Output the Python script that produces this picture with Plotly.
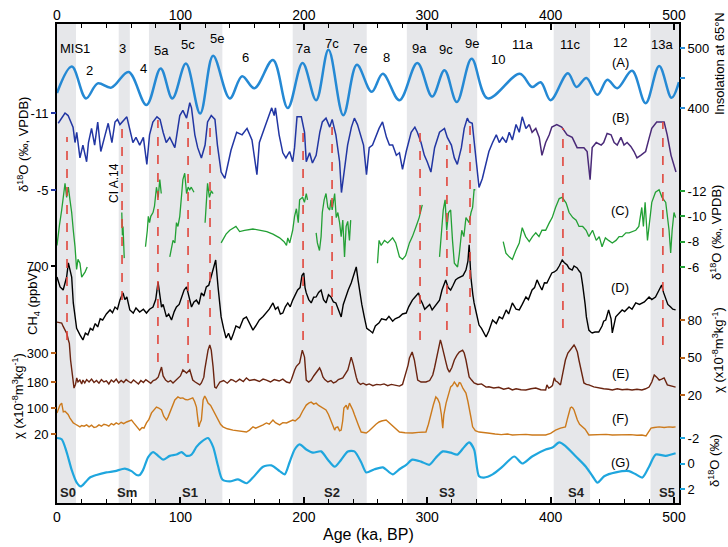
import plotly.graph_objects as go

# ---------------- data ----------------
# (A) insolation at 65N (W/m2)
ins_age = [0,12,23.5,33,44,58,72.5,84,93.5,104.5,116,126.5,140,150,160,175,187,199,210,220,232,243,255,264,277.5,292,304,314,324,336,349,375,385,392,400,414,421,429,438,446,454,466,477,488,498,504]
ins_val = [425,469,416,441,434,460,405,466,416,474,391,487,416,453,433,480,400,475,413,497,388,472,427,457,413,475,419,463,410,482,416,457,435,443,413,458,435,450,422,447,433,462,408,470,417,443]

# (B) speleothem d18O (permil VPDB), blue part and purple part
b_age = [1,6.5,9,13,14.6,16,18.6,21,24,25.5,28,30.5,33,35.5,39,41.5,44.5,47,49,51,56.6,59,61.5,64,67,70,72.8,75,77.7,81,83.5,86,88.5,91.4,95.5,99.5,102,105,107.6,109,111.7,114,117,120,122,125,128,130,133,136,138,141,145.6,150,154,158,162,164,168,171,174,176,177,180,183,185.5,188.5,191,192.5,194.5,198,200.6,202,204.7,207,210,213,215,218,221,223,226,229,230.5,233,235.5,238.6,241,243.5,246.8,248.4,250.8,253,255.7,258.9,261,263.8,267,269.4,272,275,277.5,280,283,287,290,292,295,297.7,300,303,306,310,314,316.3,319.6,322,324.4,327.7,330,332.5,334,336.5,339.8,342,344.7,347.9,350,353,356,358.4,361,364,366.5,369,372,374.6,377,380,382.7]
b_val = [-10.2,-11.0,-10.8,-9.9,-8.7,-9.5,-7.5,-8.5,-7.2,-8.7,-9.8,-8.5,-10.3,-8.0,-9.3,-10.2,-8.7,-10.3,-10.5,-10.1,-10.7,-9.8,-8.7,-9.1,-8.5,-9.1,-7.0,-9.3,-10.3,-10.7,-10.5,-9.5,-8.7,-9.1,-8.3,-10.8,-11.2,-10.6,-11.8,-11.4,-9.3,-8.3,-7.5,-8.5,-10.3,-10.8,-10.5,-8.5,-6.4,-5.9,-6.7,-8.1,-9.5,-9.3,-9.8,-8.9,-6.2,-8.7,-9.8,-10.6,-11.4,-10.8,-11.4,-9.3,-7.9,-7.5,-8.0,-7.2,-8.3,-10.7,-10.7,-9.5,-7.2,-7.9,-7.1,-7.7,-9.5,-10.3,-10.6,-9.9,-10.5,-9.3,-7.2,-4.8,-6.7,-8.5,-9.9,-10.6,-10.1,-9.1,-8.5,-6.2,-8.3,-8.5,-9.3,-9.8,-10.3,-9.1,-8.5,-8.5,-7.7,-7.9,-6.6,-8.0,-9.5,-9.9,-9.5,-8.7,-7.7,-7.2,-6.4,-8.3,-9.5,-9.8,-9.1,-8.5,-7.5,-7.0,-8.3,-9.8,-10.6,-10.3,-10.2,-7.2,-5.2,-5.9,-7.2,-8.0,-8.7,-9.3,-8.7,-9.1,-8.7,-9.5,-8.9,-10.1,-9.5,-10.7,-9.8,-10.1]
bp_age = [382.7,385,388,390.8,393,396,398.9,401,405,409,413.4,417.5,421.5,424.8,427,429.6,432,433.7,437,441,443,445.8,449,451.5,454,457,459.5,462,465,467.6,470,473,477,480,482,486,492,494.5,497.6,501.6]
bp_val = [-10.1,-9.5,-9.8,-9.1,-7.7,-8.7,-9.3,-9.9,-10.1,-9.9,-9.3,-9.1,-8.3,-8.3,-8.3,-8.0,-5.8,-8.3,-8.7,-8.5,-8.7,-9.4,-9.3,-8.7,-8.5,-9.1,-8.5,-8.7,-8.4,-8.0,-7.5,-7.7,-8.0,-9.1,-9.8,-10.3,-10.3,-9.3,-7.7,-6.4]

# (C) second d18O record (permil VPDB), None = gap
c_age = [0,1,2,3.8,5,6.5,7.8,9.2,10.5,11.9,13.2,14.6,15.9,17,18.6,20,22.7,24.5, None,
         52.5,53,53.5,54,54.5, None,
         71.7,72.5,73.2,74,75,76,77.8,79,80.6,82,83.3,84.5, None,
         91.4,92.5,94,95.5,96.8,98,99.5,100.8,102,103.5,105,106.3,107.6,108.8,110,111, None,
         120,121,122,123.5,125,126.5, None,
         133,137,140,145,148,152,158.8,165,170,175,180.4,184,186,187,188.6,191,192.5,194,195.5,196.6,199,200.5,202,203, None,
         210,211,212.7,214,215,216.5,218,219.5,221,222,223,225,226.3,227.6,229,230.3,231.6,233,234.3,235.6,237,238, None,
         259.7,261,262.7,265.4,268,272,274.5,277.5,280,282.5,285.6,288,291,293.5,296, None,
         310,311.5,313,314.5,315.8,317.3,319,320.5,322,324.6,326,328,329.7,331.4,334,335.5,336.8,338,339, None,
         361.6,363.8,366.5,369,371.8,374.6,377,379.8,382.7,385.3,388,390.6,393,396,399,401.3,404,407,409.4,412.6,415,418,420.7,423,426,428.8,431,434,437,439.4,441.7,444.4,447,450,453,455.5,458,461,463.6,466.3,469,471.5,473.9,475.2,476.6,478.5,480.3,482,485,487.9,490.3,493.3,496,497.3,498.5,500,501.3]
c_val = [-7.7,-8.6,-9.3,-10.5,-11.4,-12.6,-11.5,-12.3,-11.3,-10.3,-8.9,-7.6,-5.8,-6.6,-6.3,-5.2,-5.6,-6.0, None,
         -10.3,-8.5,-9.2,-7.5,-6.7, None,
         -7.6,-8.2,-8.9,-10.0,-9.5,-10.0,-10.3,-10.8,-12.3,-11.5,-12.9,-11.8, None,
         -6.8,-7.3,-8.1,-7.9,-9.5,-9.2,-10.0,-11.5,-12.9,-13.4,-11.8,-12.3,-12.1,-12.3,-12.1,-11.9, None,
         -9.5,-11.2,-12.6,-11.5,-12.0,-11.8, None,
         -7.9,-8.6,-8.9,-9.2,-8.8,-8.9,-9.0,-8.9,-8.8,-8.6,-8.3,-8.0,-7.7,-8.3,-7.9,-8.9,-10.0,-10.6,-9.5,-11.3,-11.5,-11.1,-11.8,-11.3, None,
         -8.7,-7.9,-7.3,-8.4,-10.3,-11.3,-11.8,-10.7,-10.5,-11.3,-10.5,-11.8,-9.9,-10.3,-9.5,-8.4,-9.7,-6.8,-9.2,-9.6,-8.1,-9.7, None,
         -6.3,-8.1,-7.7,-8.1,-7.9,-8.3,-7.9,-6.8,-6.6,-6.9,-7.9,-8.4,-9.2,-9.9,-10.9, None,
         -6.8,-8.9,-10.5,-11.3,-8.9,-10.3,-10.5,-8.1,-6.3,-6.0,-7.0,-8.9,-8.4,-9.9,-9.5,-10.3,-10.7,-12.1,-12.1, None,
         -8.0,-7.1,-6.8,-6.6,-7.3,-7.9,-9.1,-8.4,-8.0,-8.4,-8.7,-8.4,-8.9,-8.9,-9.5,-9.9,-10.7,-11.4,-11.5,-11.05,-10.3,-9.9,-9.7,-9.2,-9.2,-8.9,-8.4,-8.9,-8.1,-8.4,-7.6,-8.3,-8.1,-7.9,-8.1,-8.4,-8.4,-8.7,-8.7,-8.8,-8.9,-9.2,-10.7,-9.2,-11.1,-8.1,-9.9,-11.1,-11.9,-12.1,-11.5,-11.1,-8.9,-7.1,-8.9,-10.3,-9.9]

# (D) CH4 (ppbV)
d_age = [0,2.5,5,7.8,9.2,10.5,11.9,13.2,14.6,15.9,18.6,21,23,25,27,29,31,33,35,37,40,43,45,47,49,51,53.5,55,56.6,59,61.8,64,67,70,72.5,75,77.8,80,81.9,83,84.7,86,88.7,90.5,92.8,95,96.8,99,100.9,103,105,107,109,111,113,115,117,119,121,123,125,127,128.6,130.5,132,133,135,137,139,141,142.6,145,148,151,153.5,156,158.8,161,164,167,169.7,172,175,177,179,181,183,185,187,189,191,193,195,197,198.5,200,201,202,204,206,208,210,212,214,216,218,220,222,224,226,228,230.3,232,234,236,238.4,240.5,242.5,244,245,247,249,251,253,255.8,258,261,263,266.7,269,272,274,277.5,280,283,285,288,290,293,294.5,296,298,300,302,304,306,308,310,312,315,317,319,321,323,325,327,329,331.4,333,334,335.4,337,338,340,342,344,345.7,347.7,350,353,356,358.4,361,364,366,369,372,374.6,377,380,382,385,387,389,391,393,395,397,399,401,403,405,407,409.4,411,413.4,415,417.5,419,421.5,423,424.5,426,427,428,429,431,432.5,433.7,436,439,441.7,443,444.7,447,449,450,452.8,455,458,460,463.6,466,469,472,474,476,479.8,482,485,487,490,491.5,493,495,497.3,499,501.3]
d_val = [654,613,600,654,713,683,654,546,488,440,413,392,420,413,440,433,460,446,480,475,500,517,505,529,520,558,588,560,571,517,504,525,508,520,504,520,529,560,633,590,529,540,488,500,475,510,529,540,571,600,613,570,529,550,558,540,588,575,613,620,654,690,725,613,520,488,440,400,420,392,413,450,442,480,488,460,433,450,475,490,504,520,546,520,529,500,504,530,546,530,558,580,600,610,660,671,610,588,560,546,570,571,590,600,560,546,580,571,550,546,520,488,540,571,600,629,660,696,640,600,540,488,440,433,421,450,463,480,475,490,470,480,488,500,504,530,558,570,588,560,546,520,529,540,517,530,545,558,600,642,610,600,620,642,650,654,660,683,720,788,654,580,546,500,454,440,420,404,430,475,460,488,480,517,500,546,520,517,540,571,560,600,610,642,620,600,630,629,650,671,675,683,700,725,715,704,690,683,700,692,680,671,620,588,540,488,433,425,421,425,425,450,470,475,517,480,421,488,500,517,510,529,520,546,540,546,550,571,560,571,590,621,590,571,540,529,520,517]

# (E) magnetic susceptibility, loess section 1 (x10-8 m3/kg)
e_age = [0,2,3.8,5,6.5,8,9.2,10,11,12,12.7,13.8,15,16,17,18.5,20,21,22.5,24,26,28,30,32,34,36,38,40,42,44,46,48,50,52,54,56,58,60,62,64,66,68,70,72,74,76,78,80,82,84.7,86,88,90,92,94,96,98,100,102,104,105,107.6,110,112,114,115.7,117,119,119.7,121,122.4,123.8,125,126.5,127.8,129,130.5,132,135,138,141,142.6,145,148,151,153.5,156,160,164,167,169.7,173,176,180,183,186,188.6,190,192.6,194,196.6,198.8,200.6,202,204,206,208,210,212.8,214,215.5,217,219.5,222,224,226,228,231.6,233,235.7,237,238.4,240,241,242.5,243.8,246,248,250.6,253,256,259,262,265,268,271,274,277.5,280,283,284.5,285.6,287.8,289.6,291,292.3,295,299,302,304.5,306,308.5,309.5,310.7,311.5,312.6,314,315.3,316.5,318,320,322,324,326,328.7,330,331.4,333,334,336,338,341,344,347.7,350,354,358,362,366,369,372,376,380,384,388,392,396,397,398.5,400,401.5,403,404,405.6,407,408,410,412,414,416,417.5,419,420,421.7,423,424.5,426,427,429,431,435,439,443,447,450,454,458,462,466,470,474,477,479.8,482,484,486,488,490,492,494.6,497,501.3]
e_val = [428,426,424,410,395,380,354,340,271,220,188,155,170,197,180,188,172,188,176,190,180,192,178,186,175,190,180,185,172,188,180,192,176,186,178,190,182,176,188,180,172,186,178,190,182,175,186,190,200,242,205,188,180,186,176,185,192,205,230,220,217,230,188,180,172,168,176,200,230,280,312,333,312,242,159,155,165,180,186,175,190,188,180,192,182,197,186,190,182,192,188,180,190,184,192,180,176,190,230,245,259,312,283,188,180,188,205,221,238,225,201,190,180,186,176,180,190,197,210,230,255,283,255,230,200,180,170,175,168,172,165,170,168,172,165,170,166,163,170,217,250,279,304,271,230,188,180,180,186,209,240,300,330,354,340,312,285,259,235,221,240,271,290,304,312,300,271,230,201,188,176,170,172,159,160,155,158,150,155,147,152,148,147,152,155,148,147,168,155,159,165,197,185,180,172,168,220,271,300,312,320,333,325,304,270,230,190,176,170,168,160,155,152,150,147,152,148,150,147,150,147,152,159,180,209,200,188,192,197,168,165,159]

# (F) magnetic susceptibility, loess section 2 (x10-8 m3/kg)
f_age = [0,1.2,2.4,3.8,5.1,6.5,7.8,9,10.5,12,13.2,15,16.8,18.6,20,22,24,26,28,30,32,34,36,38,40,42,44,46,48,50,52,54,56.4,58,60.4,62,64.5,67,69,70.5,72.5,74.5,76.6,78.5,80.6,82.5,84.7,86.5,88.7,90,91.4,93.5,95.5,98,100,102,104,106,108,110,111.5,113,114,115,116,117,118.4,119.7,121,122.4,124.5,126.5,128.5,130.5,132.5,134.5,138,142.6,146,150,153.5,156,158.8,161,164,167,169.7,172,175,177,180.4,183,186,188,191,193,196.6,199,200.5,202,204,206,208,210,212,214,216,218,220,222,223.5,225,226,227.5,229,230.3,231.5,232.5,234.4,235.5,237,238.5,239.7,241,242.5,244.5,246.5,250.6,253,256,258.5,261,263,266.7,269,272,275,277.5,282,288,293,299,301,303,305,307,308.5,310,311.5,312.6,313.5,315.3,317,319,320.5,322,323.5,324.5,326,327,329,331.4,333,334,335.5,336.8,339,342,345,349,355,360,365,369,375,380,385,390,396,400,404,408,412,413.5,415,416,417,418,419,420.5,421.7,423.5,425.8,428,431,435,440,445,450,455,460,465,470,474,477.3,479.5,481.4,484,488,492,496,499,501.3]
f_val = [85,95,109,115,88,90,85,80,69,62,54,50,45,42,46,44,48,42,47,40,42,48,44,50,48,44,52,48,54,50,56,52,57,60,63,55,42,32,40,38,54,65,85,95,103,100,94,75,63,72,85,110,125,134,130,131,126,125,128,131,120,103,70,42,55,63,125,137,128,115,108,94,80,63,50,42,36,32,30,28,26,32,42,38,42,48,54,50,63,55,48,55,54,58,63,60,72,90,100,109,115,118,112,115,108,103,100,94,80,63,45,32,40,42,30,32,60,100,109,95,115,105,94,80,63,45,26,23,30,42,50,57,60,63,55,42,32,26,24,23,25,26,50,85,110,134,128,115,80,38,80,115,140,165,170,180,172,165,178,177,160,146,120,103,70,42,30,26,24,23,20,18,20,17,18,19,17,18,17,22,32,38,42,65,85,100,103,100,94,75,63,50,42,35,17,18,17,19,17,18,17,18,16,17,14,25,38,40,42,40,42,41,42]

# (G) benthic d18O stack (permil)
g_age = [0,3.8,7.8,11.9,16,19.2,22.7,26.7,32,40,47,55,60.4,64.5,67,69.8,73.9,77.9,82,86,91.4,96.8,100.9,105,109,113,117,122.4,126.5,130.5,134,140,146.7,153.5,158.8,167,173.7,180.4,184.5,188.5,192.6,196.6,202,207.4,214,219.5,225,230.3,235.7,241,246.5,250.6,257.3,264,272,277.5,283,288,295,301.8,307,312.6,319,324.5,330,334,338,342,346,353,361,370.6,377,385,396,401.5,407,412.3,420.5,428.6,434,438,443.4,452.8,463.6,469,474.4,479.8,485.2,493.3,501.3]
g_val = [-2.0,-1.9,-0.9,0.5,1.5,1.8,1.5,1.1,0.9,0.7,0.6,0.4,0.6,0.9,0.9,0.5,-0.5,-0.9,-0.6,-0.3,-0.6,-0.7,-0.9,-0.6,-0.7,-1.3,-1.7,-2.0,-1.3,0.2,1.25,1.4,1.25,1.55,1.1,0.25,0.15,0.6,0.85,-0.1,-1.1,-1.5,-1.1,-0.85,-0.95,-0.3,0.25,-0.3,-0.95,-0.95,-0.1,0.7,0.45,0.3,0.85,0.45,0.1,-0.3,-0.15,0.1,-0.45,-0.95,-0.85,-0.7,-1.3,-1.65,-1.1,1.0,1.1,0.85,0.25,-0.55,0.0,-0.55,-1.1,-1.25,-1.65,-1.35,-0.55,0.25,1.0,1.5,1.0,0.7,0.6,0.85,1.1,0.25,-0.7,-0.6,-0.8]

# interglacial bands (ka)
band_start = [0, 50, 74.5, 191, 283.5, 402.5, 481]
band_end = [15.4, 59, 134, 251, 340.5, 432, 504]

# red dashed tie lines (ka)
tie_age = [8.1, 52.7, 81.8, 106.2, 124, 199.4, 222.9, 294.2, 316, 334.7, 410, 491]

# marine isotope stage labels
mis_text = ["MIS1", "2", "3", "4", "5a", "5c", "5e", "6", "7a", "7c", "7e", "8", "9a", "9c", "9e", "10", "11a", "11c", "12", "13a"]
mis_age = [14.3, 26, 52.7, 70, 85, 106, 129.5, 153, 199.5, 223, 245.5, 267, 294, 315, 336, 357, 377.6, 415.7, 456, 490]
soil_text = ["S0", "Sm", "S1", "S2", "S3", "S4", "S5"]
soil_age = [9, 56.7, 107.8, 223, 316, 421, 494]
panel_text = ["(A)", "(B)", "(C)", "(D)", "(E)", "(F)", "(G)"]

# ---------------- layout geometry ----------------
W, H = 728, 547
PT, PB, PL, PR = 24, 503, 57, 679
PX_PER_KA = 1.234
AGE_MAX = (PR - PL) / PX_PER_KA
FONT = "Arial, Liberation Sans, Helvetica, sans-serif"


def yrange(v1, p1, v2, p2):
    s = (p2 - p1) / (v2 - v1)
    return [v1 + (PB - p1) / s, v1 + (PT - p1) / s]


def yp(py):
    return (PB - py) / (PB - PT)


def xp(px):
    return (px - PL) / (PR - PL)


def yax(side, rng, tv, tt, tc, minor_vals=None):
    d = dict(overlaying="y", side=side, anchor="x", range=rng,
             tickvals=tv, ticktext=tt, ticks="outside", ticklen=5,
             tickwidth=1.5, tickcolor=tc, showgrid=False, zeroline=False,
             showline=False, tickfont=dict(size=13, color="black", family=FONT),
             automargin=False)
    if minor_vals:
        d["minor"] = dict(tickvals=minor_vals, ticks="outside", ticklen=5, tickwidth=1.5,
                          tickcolor=tc, showgrid=False)
    return d


fig = go.Figure()
fig.add_trace(go.Scatter(x=[], y=[], xaxis="x", yaxis="y", showlegend=False))
fig.add_trace(go.Scatter(x=ins_age, y=ins_val, xaxis="x2", yaxis="y2", mode="lines",
                         line=dict(color="#2589d4", width=2.5, shape="spline", smoothing=1.0),
                         showlegend=False))
fig.add_trace(go.Scatter(x=b_age, y=b_val, xaxis="x", yaxis="y3", mode="lines",
                         line=dict(color="#2236a3", width=1.5), showlegend=False))
fig.add_trace(go.Scatter(x=bp_age, y=bp_val, xaxis="x", yaxis="y3", mode="lines",
                         line=dict(color="#4a2a78", width=1.5), showlegend=False))
fig.add_trace(go.Scatter(x=c_age, y=c_val, xaxis="x", yaxis="y4", mode="lines",
                         line=dict(color="#23a035", width=1.3), connectgaps=False,
                         showlegend=False))
fig.add_trace(go.Scatter(x=d_age, y=d_val, xaxis="x", yaxis="y5", mode="lines",
                         line=dict(color="black", width=1.4), showlegend=False))
fig.add_trace(go.Scatter(x=e_age, y=e_val, xaxis="x", yaxis="y6", mode="lines",
                         line=dict(color="#6a2410", width=1.4), showlegend=False))
fig.add_trace(go.Scatter(x=f_age, y=f_val, xaxis="x", yaxis="y7", mode="lines",
                         line=dict(color="#cc7a1c", width=1.4), showlegend=False))
fig.add_trace(go.Scatter(x=[], y=[], xaxis="x", yaxis="y8", showlegend=False))
fig.add_trace(go.Scatter(x=g_age, y=g_val, xaxis="x", yaxis="y9", mode="lines",
                         line=dict(color="#1fa6de", width=2.2, shape="spline", smoothing=0.7),
                         showlegend=False))

shapes = []
for a0, a1 in zip(band_start, band_end):
    shapes.append(dict(type="rect", xref="x", yref="paper", x0=a0, x1=a1, y0=0, y1=1,
                       fillcolor="#e6e7ea", line=dict(width=0), layer="below"))
tie_top = [137, 125, 120, 122, 122, 128, 127, 128, 145, 120, 128, 122]
tie_bot = [340, 300, 362, 363, 335, 340, 315, 340, 330, 333, 328, 345]
for a, t, b in zip(tie_age, tie_top, tie_bot):
    shapes.append(dict(type="line", xref="x", yref="paper", x0=a, x1=a, y0=yp(b), y1=yp(t),
                       line=dict(color="#e0463c", width=1.6, dash="dash"), layer="above"))


def label(text, x, y, xref="x", size=13, angle=0, color="black"):
    return dict(text=text, x=x, y=y, xref=xref, yref="paper", showarrow=False,
                xanchor="center", yanchor="middle", textangle=angle,
                font=dict(size=size, color=color, family=FONT))


ann = []
mis_py = [48, 70, 48, 68, 50, 44, 39, 58, 48, 43, 48, 57, 48, 49, 43, 60, 45, 45, 42, 45]
for t, a, py in zip(mis_text, mis_age, mis_py):
    ann.append(label(t, a, yp(py)))
for t, a in zip(soil_text, soil_age):
    ann.append(label("<b>%s</b>" % t, a, yp(492), color="#222"))
panel_py = [62, 117, 210, 287, 373, 418, 462]
for t, py in zip(panel_text, panel_py):
    ann.append(label(t, xp(620), yp(py), xref="paper"))
ann.append(label("CI A.14", xp(114), yp(183), xref="paper", size=12, angle=-90))

titles = [
    ("δ<sup>18</sup>O (‰, VPDB)", 23, 145),
    ("CH<sub>4</sub> (ppbV)", 33, 302),
    ("χ (x10<sup>-8</sup>m<sup>3</sup>kg<sup>-1</sup>)", 18, 396),
    ("Insolation at 65°N", 719, 64),
    ("δ<sup>18</sup>O (‰, VPDB)", 716, 233),
    ("χ (x10<sup>-8</sup>m<sup>3</sup>kg<sup>-1</sup>)", 718, 350),
    ("δ<sup>18</sup>O (‰)", 714, 461),
]
for t, px, py in titles:
    ann.append(label(t, xp(px), yp(py), xref="paper", angle=-90))
ann.append(label("Age (ka, BP)", 0.5, yp(534), xref="paper", size=16))

xcommon = dict(range=[0, AGE_MAX], tickvals=[0, 100, 200, 300, 400, 500], ticks="inside",
               ticklen=6, tickwidth=1.5, tickcolor="black", showgrid=False, zeroline=False,
               tickfont=dict(size=14, color="black", family=FONT), automargin=False,
               minor=dict(tickvals=[v for v in range(20, 500, 20) if v % 100], ticks="inside",
                          ticklen=4, tickwidth=1.2, tickcolor="black", showgrid=False))

layout = dict(
    width=W, height=H,
    margin=dict(l=PL, r=W - PR, t=PT, b=H - PB),
    plot_bgcolor="white", paper_bgcolor="white",
    xaxis=dict(**xcommon, showline=True, mirror=True, linecolor="black", linewidth=1.6, side="bottom"),
    xaxis2=dict(**xcommon, overlaying="x", side="top", anchor="y", showline=False),
    yaxis=dict(range=[0, 1], showline=True, mirror=True, linecolor="black", linewidth=1.6,
               ticks="", showticklabels=False, showgrid=False, zeroline=False),
    yaxis2=yax("right", yrange(500, 48, 400, 108), [400, 500], ["400", "500"], "#2a8fd8", [450]),
    yaxis3=yax("left", yrange(-11, 113, -5, 190), [-11, -5], ["-11", "-5"], "#2236a3"),
    yaxis4=yax("right", yrange(-12, 191, -6, 267), [-12, -10, -8, -6], ["-12", "-10", "-8", "-6"], "#23a035"),
    yaxis5=yax("left", yrange(700, 266, 400, 338), [700], ["700"], "black"),
    yaxis6=yax("left", yrange(300, 353, 180, 382), [300, 180], ["300", "180"], "#b8621a"),
    yaxis7=yax("left", yrange(100, 408, 20, 434), [100, 20], ["100", "20"], "#b8621a"),
    yaxis8=yax("right", yrange(80, 320, 20, 395), [80, 50, 20], ["80", "50", "20"], "#b8621a"),
    yaxis9=yax("right", yrange(-2, 438, 2, 489), [-2, 0, 2], ["-2", "0", "2"], "#1fa6de"),
    shapes=shapes, annotations=ann, showlegend=False,
)
fig.update_layout(**layout)
fig.write_html("out.html")
